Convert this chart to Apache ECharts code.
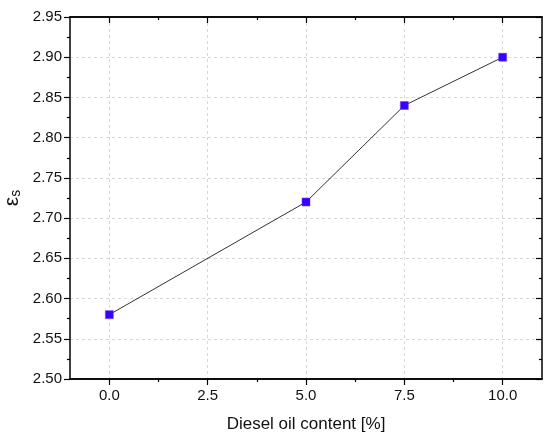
<!DOCTYPE html>
<html>
<head>
<meta charset="utf-8">
<script src="https://cdn.jsdelivr.net/npm/echarts@6/dist/echarts.min.js"></script>
<style>html,body{margin:0;padding:0;background:#fff}#c{width:550px;height:440px}</style>
</head>
<body>
<div id="c"></div>
<script>
const dieselContent = [0, 5, 7.5, 10];
const epsilonS = [2.58, 2.72, 2.84, 2.90];
const xTicks = [0, 2.5, 5, 7.5, 10];
const xMinorTicks = [1.25, 3.75, 6.25, 8.75];
const xTitle = 'Diesel oil content [%]';

const font = 'Arial, "Liberation Sans", sans-serif';
const chart = echarts.init(document.getElementById('c'));
const lineStyle = {color: '#000', width: 1.5};
function xAxisDef(pos, vals, len, inside, labels, split) {
  return {
    type: 'value', position: pos, min: -1, max: 11,
    axisLine: {show: true, lineStyle: lineStyle, onZero: false},
    axisTick: {show: true, customValues: vals, length: len, inside: inside, lineStyle: {color: '#000', width: 1.2}},
    axisLabel: labels ? {show: true, customValues: vals, formatter: v => v.toFixed(1), fontFamily: font, fontSize: 15, color: '#111', margin: 9} : {show: false},
    splitLine: split ? {show: true, lineStyle: {color: '#d8d8d8', type: [3, 3], width: 1}} : {show: false}
  };
}
const xAxes = [
  Object.assign(xAxisDef('bottom', xTicks, 6, false, true, true), {
    name: xTitle, nameLocation: 'middle', nameGap: 37,
    nameTextStyle: {fontFamily: font, fontSize: 17, color: '#111'}
  }),
  xAxisDef('bottom', xMinorTicks, 3, false, false, false),
  xAxisDef('top', xTicks, 6, true, false, false),
  xAxisDef('top', xMinorTicks, 3, true, false, false)
];
function yAxisDef(pos, inside, labels) {
  return {
    type: 'value', position: pos, min: 2.5, max: 2.95, interval: 0.05,
    axisLine: {show: true, lineStyle: lineStyle, onZero: false},
    axisTick: {show: true, length: 6, inside: inside, lineStyle: {color: '#000', width: 1.2}},
    minorTick: {show: true, splitNumber: 2, length: 3, lineStyle: {color: '#000', width: 1.2}},
    axisLabel: labels ? {show: true, formatter: v => v.toFixed(2), fontFamily: font, fontSize: 15, color: '#111', margin: 8} : {show: false},
    splitLine: labels ? {show: true, lineStyle: {color: '#d8d8d8', type: [3, 3], width: 1}} : {show: false}
  };
}
const yMain = Object.assign(yAxisDef('left', false, true), {
  name: '{e|ε}{s|s}', nameLocation: 'middle', nameGap: 47, nameRotate: 90,
  nameMoveOverlap: false,
  nameTextStyle: {
    color: '#111',
    rich: {
      e: {fontFamily: font, fontSize: 21, color: '#111', lineHeight: 22, verticalAlign: 'middle'},
      s: {fontFamily: font, fontSize: 14, color: '#111', lineHeight: 14, verticalAlign: 'bottom'}
    }
  }
});
const yRight = yAxisDef('right', true, false);
yRight.minorTick.inside = true;

chart.setOption({
  animation: false,
  backgroundColor: '#fff',
  grid: {left: 70, right: 8, top: 17, bottom: 61, containLabel: false, outerBoundsMode: 'none'},
  xAxis: xAxes,
  yAxis: [yMain, yRight],
  series: [{
    type: 'line',
    xAxisIndex: 0, yAxisIndex: 0,
    data: dieselContent.map((x, i) => [x, epsilonS[i]]),
    symbol: 'rect', symbolSize: 8,
    lineStyle: {color: '#333', width: 1},
    itemStyle: {color: '#3a00ff', borderColor: '#5a40ff', borderWidth: 0.5}
  }]
});
</script>
</body>
</html>
